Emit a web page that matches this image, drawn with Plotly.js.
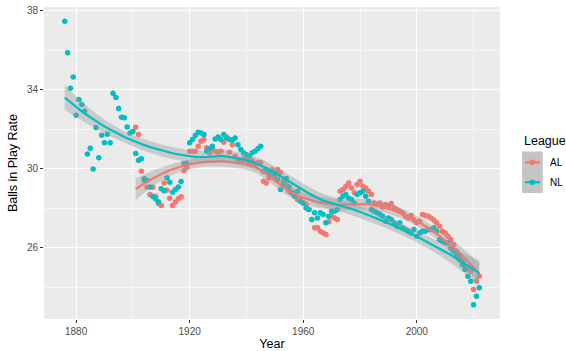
<!DOCTYPE html>
<html><head><meta charset="utf-8">
<script src="https://cdn.plot.ly/plotly-3.0.1.min.js"></script>
<style>html,body{margin:0;padding:0;background:#fff}#chart{width:566px;height:351px}</style>
</head><body><div id="chart"></div>
<script>
// ---- data ----
const nlStartYear = 1876;
const nlValues = [
  37.46, 35.86, 34.07, 34.64, 32.70, 33.49, 33.24, 32.90, 30.74, 31.03,
  29.97, 32.08, 30.54, 31.69, 31.30, 31.74, 31.30, 33.81, 33.60, 33.04,
  32.60, 32.57, 32.10, 31.80, 31.87,
  30.76, 30.42, 30.49, 29.48, 29.40, 29.07, 28.58, 28.47, 28.31, 28.97,
  28.87, 29.53, 29.31, 28.80, 28.94, 29.07, 29.34, 30.24, 30.27, 31.30,
  31.47, 31.67, 31.84, 31.80, 31.72, 30.88, 31.00, 31.13, 31.50, 31.60,
  31.47, 31.72, 31.55, 31.47, 31.43, 31.55, 31.20, 30.96, 30.80, 30.70,
  30.62, 30.80, 30.88, 31.00, 31.13,
  29.86, 29.95, 29.78, 29.70, 29.75, 29.44, 28.94, 29.20, 29.50, 29.07,
  28.77, 28.60, 28.85, 28.34, 28.26, 28.00, 27.92,
  27.42, 27.76, 27.50, 27.76, 27.67, 27.25, 27.58, 27.84, 27.84, 27.92,
  28.43, 28.60, 28.68, 28.50, 28.43, 28.26, 28.68, 28.77, 28.85, 28.60,
  28.34, 27.92, 27.84,
  27.76, 27.67, 27.58, 27.33, 27.50, 27.42, 27.25, 27.08, 27.25, 27.00,
  26.91, 26.83, 26.74, 26.91, 26.57, 26.74, 26.83, 26.83, 26.91, 26.91,
  27.00, 26.83, 26.40, 26.32, 26.24, 26.24, 25.98, 25.81, 25.65, 25.39,
  25.14, 24.89, 24.55, 24.29, 23.10, 23.53, 23.96
];
const alStartYear = 1901;
const alValues = [
  32.09, 31.72, 29.86, 29.41, 29.05, 28.68, 29.05, 28.60, 28.23, 28.13,
  29.27, 28.90, 28.50, 28.13, 28.30, 28.47, 28.57, 29.90, 30.05, 30.88,
  30.88, 30.88, 31.13, 31.38, 31.47, 31.05, 30.80, 30.96, 30.88, 30.83,
  30.88, 31.33, 31.60, 30.83, 31.20, 30.62, 30.46, 30.37, 30.50, 30.46,
  30.32, 30.40, 30.20, 30.29, 30.29,
  29.36, 29.27, 29.53, 29.95, 29.53, 29.95, 29.80, 29.36, 29.19, 28.85,
  28.77, 28.60, 28.43, 28.50, 28.26, 28.18, 27.92,
  27.42, 27.00, 27.00, 26.83, 26.74, 26.66, 27.30, 27.58, 27.50, 27.42,
  28.85, 28.94, 29.10, 29.27, 29.02, 28.77, 29.19, 29.36, 29.10, 29.02,
  28.85, 28.68, 28.26,
  28.18, 28.26, 28.05, 28.18, 28.10, 28.23, 28.00, 27.92, 27.84, 27.75,
  27.58, 27.50, 27.62, 27.40, 27.25, 27.33, 27.67, 27.62, 27.58, 27.50,
  27.40, 27.25, 27.08, 26.83, 26.74, 26.57, 26.40, 26.15, 25.81, 25.56,
  25.30, 25.05, 24.97, 24.80, 23.87, 24.30, 24.55
];
const leagueNames = ['AL', 'NL'];
const leagueColors = ['#F8766D', '#00BFC4'];
const xTickStart = 1880, xTickStep = 40;
const yTickStart = 26, yTickStep = 4;

function yearsFor(start, vals) { return vals.map((_, i) => start + i); }
const nlYears = yearsFor(nlStartYear, nlValues);
const alYears = yearsFor(alStartYear, alValues);

// ---- loess (degree 2, span 0.75) with 95% band, like geom_smooth ----
function smootherRow(xs, x0, q) {
  const n = xs.length;
  const d = xs.map(x => Math.abs(x - x0));
  const s = d.slice().sort((a, b) => a - b);
  const h = Math.max(s[q - 1], 1e-9) * 1.0000001;
  const w = d.map(v => { const u = v / h; return u < 1 ? Math.pow(1 - u * u * u, 3) : 0; });
  const S = [[0,0,0],[0,0,0],[0,0,0]];
  for (let i = 0; i < n; i++) {
    if (!w[i]) continue;
    const t = (xs[i] - x0) / h, b = [1, t, t * t];
    for (let a = 0; a < 3; a++) for (let c = 0; c < 3; c++) S[a][c] += w[i] * b[a] * b[c];
  }
  const inv = inv3(S);
  return xs.map((x, i) => { if (!w[i]) return 0; const t = (x - x0) / h; return w[i] * (inv[0][0] + inv[0][1] * t + inv[0][2] * t * t); });
}
function inv3(m) {
  const [a,b,c] = m[0], [d,e,f] = m[1], [g,h,k] = m[2];
  const A = e*k - f*h, B = -(d*k - f*g), C = d*h - e*g;
  const det = a*A + b*B + c*C;
  return [[A/det, -(b*k - c*h)/det, (b*f - c*e)/det],
          [B/det, (a*k - c*g)/det, -(a*f - c*d)/det],
          [C/det, -(a*h - b*g)/det, (a*e - b*d)/det]];
}
function loessBand(xs, ys, span, nOut) {
  const n = xs.length, q = Math.floor(n * span);
  let tr = 0, ss = 0, rss = 0;
  for (let i = 0; i < n; i++) {
    const l = smootherRow(xs, xs[i], q);
    let fit = 0;
    for (let j = 0; j < n; j++) { fit += l[j] * ys[j]; ss += l[j] * l[j]; }
    tr += l[i];
    rss += (ys[i] - fit) * (ys[i] - fit);
  }
  const delta1 = n - 2 * tr + ss;
  const sigma = Math.sqrt(rss / delta1);
  const z = 1.96, tq = z + (z * z * z + z) / (4 * delta1);
  const lo = Math.min(...xs), hi = Math.max(...xs);
  const gx = [], gy = [], gl = [], gu = [];
  for (let k = 0; k < nOut; k++) {
    const x0 = lo + (hi - lo) * k / (nOut - 1);
    const l = smootherRow(xs, x0, q);
    let fit = 0, s2 = 0;
    for (let j = 0; j < n; j++) { fit += l[j] * ys[j]; s2 += l[j] * l[j]; }
    const se = sigma * Math.sqrt(s2);
    gx.push(x0); gy.push(fit); gl.push(fit - tq * se); gu.push(fit + tq * se);
  }
  return { x: gx, y: gy, lower: gl, upper: gu };
}

const groups = [
  { years: alYears, vals: alValues },
  { years: nlYears, vals: nlValues }
];
const traces = [];
groups.forEach((g, gi) => {
  traces.push({ type: 'scatter', mode: 'markers', x: g.years, y: g.vals, showlegend: false,
    marker: { color: leagueColors[gi], size: 5.5, line: { width: 0 } }, hoverinfo: 'x+y' });
});
const fits = groups.map(g => loessBand(g.years, g.vals, 0.75, 80));
fits.forEach((f, gi) => {
  traces.push({ type: 'scatter', mode: 'lines', x: f.x, y: f.lower, line: { width: 0 }, showlegend: false, hoverinfo: 'skip' });
  traces.push({ type: 'scatter', mode: 'lines', x: f.x, y: f.upper, line: { width: 0 }, fill: 'tonexty',
    fillcolor: 'rgba(153,153,153,0.4)', showlegend: false, hoverinfo: 'skip' });
  traces.push({ type: 'scatter', mode: 'lines', x: f.x, y: f.y, line: { color: leagueColors[gi], width: 2.2 }, showlegend: false });
});

// data ranges with ggplot-style 5% expansion
const allX = nlYears.concat(alYears);
const allY = nlValues.concat(alValues);
fits.forEach(f => { allY.push(...f.lower, ...f.upper); });
const xmin = Math.min(...allX), xmax = Math.max(...allX);
const ymin = Math.min(...allY), ymax = Math.max(...allY);
const xr = [xmin - 0.05 * (xmax - xmin), xmax + 0.05 * (xmax - xmin)];
const yr = [ymin - 0.05 * (ymax - ymin), ymax + 0.05 * (ymax - ymin)];

const FONT = 'Liberation Sans, Arial, sans-serif';
const axisCommon = {
  showgrid: true, gridcolor: '#FFFFFF', gridwidth: 1.1, zeroline: false, showline: false,
  ticks: 'outside', ticklen: 3, tickwidth: 1, tickcolor: '#333333',
  tickfont: { family: FONT, size: 10, color: '#4D4D4D' }
};
// legend key geometry (pixels in the 566x351 page)
const L = 44, R = 500.5, T = 7, B = 319.5;
const px = v => (v - L) / (R - L), py = v => (B - v) / (B - T);
const keyY = [162.5, 182.5];
const shapes = [{ type: 'rect', xref: 'paper', yref: 'paper', x0: px(522.7), x1: px(543.3), y0: py(193.3), y1: py(151.7),
  fillcolor: '#C4C4C4', line: { width: 0 }, layer: 'above' }];
const annotations = [{ text: 'League', xref: 'paper', yref: 'paper', x: px(522.5), y: py(141.5), xanchor: 'left', yanchor: 'middle',
  showarrow: false, font: { family: FONT, size: 12.5, color: '#000000' } }];
leagueNames.forEach((nm, i) => {
  shapes.push({ type: 'line', xref: 'paper', yref: 'paper', x0: px(525.5), x1: px(540.5), y0: py(keyY[i]), y1: py(keyY[i]),
    line: { color: leagueColors[i], width: 2.2 }, layer: 'above' });
  shapes.push({ type: 'circle', xref: 'paper', yref: 'paper', xsizemode: 'pixel', ysizemode: 'pixel',
    xanchor: px(533), yanchor: py(keyY[i]), x0: -2.8, x1: 2.8, y0: -2.8, y1: 2.8,
    fillcolor: leagueColors[i], line: { width: 0 }, layer: 'above' });
  annotations.push({ text: nm, xref: 'paper', yref: 'paper', x: px(549), y: py(keyY[i]), xanchor: 'left', yanchor: 'middle',
    showarrow: false, font: { family: FONT, size: 10, color: '#000000' } });
});

const layout = {
  width: 566, height: 351,
  margin: { l: L, r: 566 - R, t: T, b: 351 - B },
  paper_bgcolor: '#FFFFFF', plot_bgcolor: '#EBEBEB',
  showlegend: false,
  font: { family: FONT },
  xaxis: Object.assign({}, axisCommon, {
    range: xr, tick0: xTickStart, dtick: xTickStep, tickmode: 'linear',
    minor: { tick0: xTickStart, dtick: xTickStep / 2, showgrid: true, gridcolor: '#FFFFFF', gridwidth: 0.55, ticks: '' },
    title: { text: 'Year', font: { family: FONT, size: 12.5, color: '#000000' }, standoff: 3 }
  }),
  yaxis: Object.assign({}, axisCommon, {
    range: yr, tick0: yTickStart, dtick: yTickStep, tickmode: 'linear',
    minor: { tick0: yTickStart, dtick: yTickStep / 2, showgrid: true, gridcolor: '#FFFFFF', gridwidth: 0.55, ticks: '' },
    title: { text: 'Balls in Play Rate', font: { family: FONT, size: 12.5, color: '#000000' }, standoff: 6 }
  }),
  shapes: shapes, annotations: annotations
};
Plotly.newPlot('chart', traces, layout, { displayModeBar: false, staticPlot: true });
</script></body></html>
